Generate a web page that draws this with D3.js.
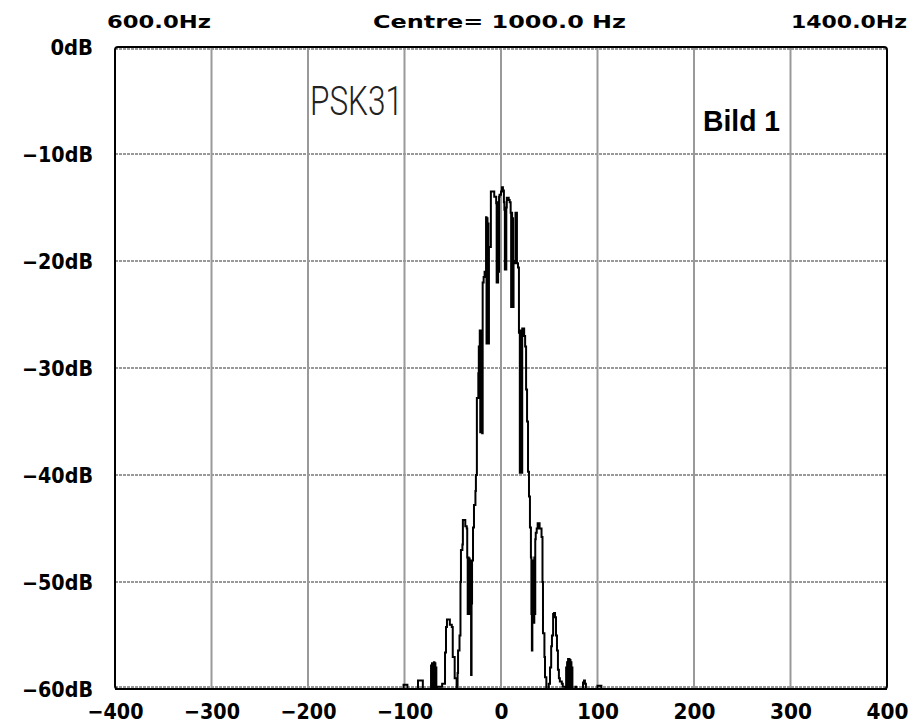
<!DOCTYPE html>
<html><head><meta charset="utf-8">
<script src="https://cdn.jsdelivr.net/npm/d3@7"></script>
<style>html,body{margin:0;padding:0;background:#fff;}</style>
</head><body>
<svg id="c" width="920" height="725"></svg>
<script>
// ---- data ----
const xTicks = [-400,-300,-200,-100,0,100,200,300,400];
const yTicks = [0,-10,-20,-30,-40,-50,-60];
const topLabels = ["600.0Hz","Centre= 1000.0 Hz","1400.0Hz"];
const annotation1 = "PSK31";
const annotation2 = "Bild 1";
// spectrum trace: offset from centre (Hz) and level (dB)
const freqHz = [-400,-102,-101,-98,-97,-87,-86,-82,-81,
 -73,-72.5,-72,-71.5,-71,-70.5,-70,-69.5,-69,-68.5,-68,-67.5,-67,-66,
 -62,-61,-59,-58,-57,-56,-54,-53,-51,-50,-48,-46,-45,-44.5,-43,-42,-41.5,-40,-39.5,-38,-37,-35.5,
 -35,-34.5,-34,-33.5,-33,-32.5,-32,-31.5,-31,-30.5,-30,
 -29,-28,-26.5,-26,-25,-23.5,-23,-22,-21.5,-21,-20.5,-20,-19.5,-19,-18,-17,
 -15.5,-15,-14.5,-14,-13.5,-13,-12.5,-11.5,-10.5,-8,-7,-5,
 -4.5,-4,-3.5,-3,-2.5,-2,-1.5,0,1,2,3,
 3.5,4,4.5,5,5.5,6,7,8,9,10,
 10.5,11,11.5,12,12.5,13,14,15,15.5,16,16.5,17.6,18.6,
 19.5,20,20.5,21,21.5,22,23,24,25,26,27,28,29,30,
 31,31.5,32,32.5,33,33.5,34,34.5,35,35.5,36,37,38,39,40,42,43,43.5,45,45.6,47,48,49.5,50.8,52,52.8,54,55,56,57,58,59,60,61,63,64,66,
 67,67.5,68,68.5,69,69.5,70,70.5,71,71.5,72,72.5,73,73.5,74,
 76,77,78,84,85,86,87,88,99,100,103,104,400];
const levelDb = [-60,-60,-59.6,-59.6,-60,-60,-59.2,-59.2,-60,
 -60,-57.8,-60,-57.6,-60,-57.7,-59.5,-57.5,-60,-57.6,-59.8,-58,-60,-59.8,
 -59.8,-59.5,-59.5,-56.6,-54.2,-53.5,-53.5,-54,-54.2,-57,-59,-60,-58.5,-56.4,-55,-50,-47,-46.5,-44.2,-44.2,-44.8,-45,
 -47.7,-53,-47.7,-53,-47.8,-53,-48,-53,-58.7,-52,-48,
 -44.9,-42.8,-41.5,-40,-32.8,-30.5,-28,-26.5,-36,-26.5,-36,-27,-36.1,-22,-21.5,-21,
 -15.9,-27.7,-16,-27.7,-16.5,-27.7,-18.7,-18.7,-13.5,-13.5,-14,-14.6,
 -22,-14.6,-22,-14.5,-21,-14,-13.8,-13.5,-13.1,-13.4,-14.5,
 -15.2,-20.8,-15.2,-20.8,-15,-14.1,-14.1,-14.3,-14.5,-15.5,
 -24.3,-15.5,-24.3,-16,-24.3,-20.2,-20,-15.5,-20.2,-15.5,-20.2,-20.6,-26.7,
 -39.8,-26.5,-39.8,-26.5,-39.8,-26.3,-26.3,-27,-28,-32,-35,-39.7,-42,-44.9,
 -47.7,-53,-56.4,-48,-53.8,-48,-53.8,-47.7,-53,-46,-45.4,-45,-44.5,-44.5,-45,-45.8,-50,-54.8,-57,-58.9,-60,-60,-59.5,-58,-56,-55,-53,-52.9,-53.3,-55,-56.4,-58.2,-59,-59.3,-59.5,-59.8,-59.8,
 -60,-58,-60,-57.5,-60,-57.2,-59.8,-57.2,-60,-57.3,-60,-57.5,-59.8,-58,-60,
 -60,-59.8,-60,-60,-59.4,-59.2,-59.5,-60,-60,-59.7,-59.7,-60,-60];

// ---- chart ----
const svg = d3.select("#c");
const L=115, R=887, T=47, B=689;
const x = d3.scaleLinear().domain([-400,400]).range([L,R]);
const y = d3.scaleLinear().domain([-60,0]).range([B,T]);
const mono = "'DejaVu Sans', sans-serif";

// vertical grid
svg.append("g").selectAll("line").data(xTicks.slice(1,-1)).join("line")
  .attr("x1",d=>x(d)).attr("x2",d=>x(d)).attr("y1",T).attr("y2",B)
  .attr("stroke","#999").attr("stroke-width",2);
// horizontal dotted grid
svg.append("g").selectAll("line").data(yTicks).join("line")
  .attr("x1",L).attr("x2",R).attr("y1",d=>y(d)+(d===0?2:(d===-60?-2:0))).attr("y2",d=>y(d)+(d===0?2:(d===-60?-2:0)))
  .attr("stroke","#999").attr("stroke-width",2).attr("stroke-dasharray","3,1");

// trace
const pts = freqHz.map((f,i)=>[f,levelDb[i]]);
svg.append("path").datum(pts)
  .attr("d", d3.line().curve(d3.curveStepAfter).x(d=>x(d[0])).y(d=>y(d[1])))
  .attr("fill","none").attr("stroke","#000").attr("stroke-width",2).attr("stroke-linejoin","miter");

// frame
svg.append("rect").attr("x",L).attr("y",T).attr("width",R-L).attr("height",B-T)
  .attr("rx",3).attr("fill","none").attr("stroke","#000").attr("stroke-width",2);

// bottom axis
const xa = svg.append("g").attr("transform",`translate(0,${B})`)
  .call(d3.axisBottom(x).tickValues(xTicks).tickSize(0).tickPadding(0).tickFormat(d=>String(d).replace("-","\u2212")));
xa.select(".domain").remove();
xa.selectAll("text").attr("dy",null).attr("y",30).attr("font-family",mono).attr("font-weight","bold")
  .attr("font-size",22).attr("fill","#000")
  .attr("textLength",function(d){return String(d).length*14;}).attr("lengthAdjust","spacingAndGlyphs");

// left axis
const ya = svg.append("g").attr("transform",`translate(93,0)`)
  .call(d3.axisLeft(y).tickValues(yTicks).tickSize(0).tickPadding(0).tickFormat(d=>String(d).replace("-","\u2212")+"dB"));
ya.select(".domain").remove();
ya.selectAll("text").attr("dy","0.36em").attr("x",0).attr("font-family",mono).attr("font-weight","bold")
  .attr("font-size",20.5).attr("fill","#000")
  .attr("textLength",function(d){return (String(d)+"dB").length*14.2;}).attr("lengthAdjust","spacingAndGlyphs");

// top labels
const topPos = [[107,104],[373,253],[791,116]];
svg.append("g").selectAll("text").data(topLabels).join("text")
  .attr("x",(d,i)=>topPos[i][0]).attr("y",28).text(d=>d)
  .attr("font-family",mono).attr("font-weight","bold").attr("font-size",18)
  .attr("textLength",(d,i)=>topPos[i][1]).attr("lengthAdjust","spacingAndGlyphs");

// annotations
svg.append("text").attr("x",310).attr("y",115).text(annotation1)
  .attr("font-family","Roboto, 'Liberation Sans', sans-serif").attr("font-weight",300).attr("font-size",40)
  .attr("fill","#222").attr("textLength",93).attr("lengthAdjust","spacingAndGlyphs");
svg.append("text").attr("x",703).attr("y",131).text(annotation2)
  .attr("font-family","'Liberation Sans', Arial, sans-serif").attr("font-weight","bold").attr("font-size",30)
  .attr("textLength",77).attr("lengthAdjust","spacingAndGlyphs");
</script>
</body></html>
